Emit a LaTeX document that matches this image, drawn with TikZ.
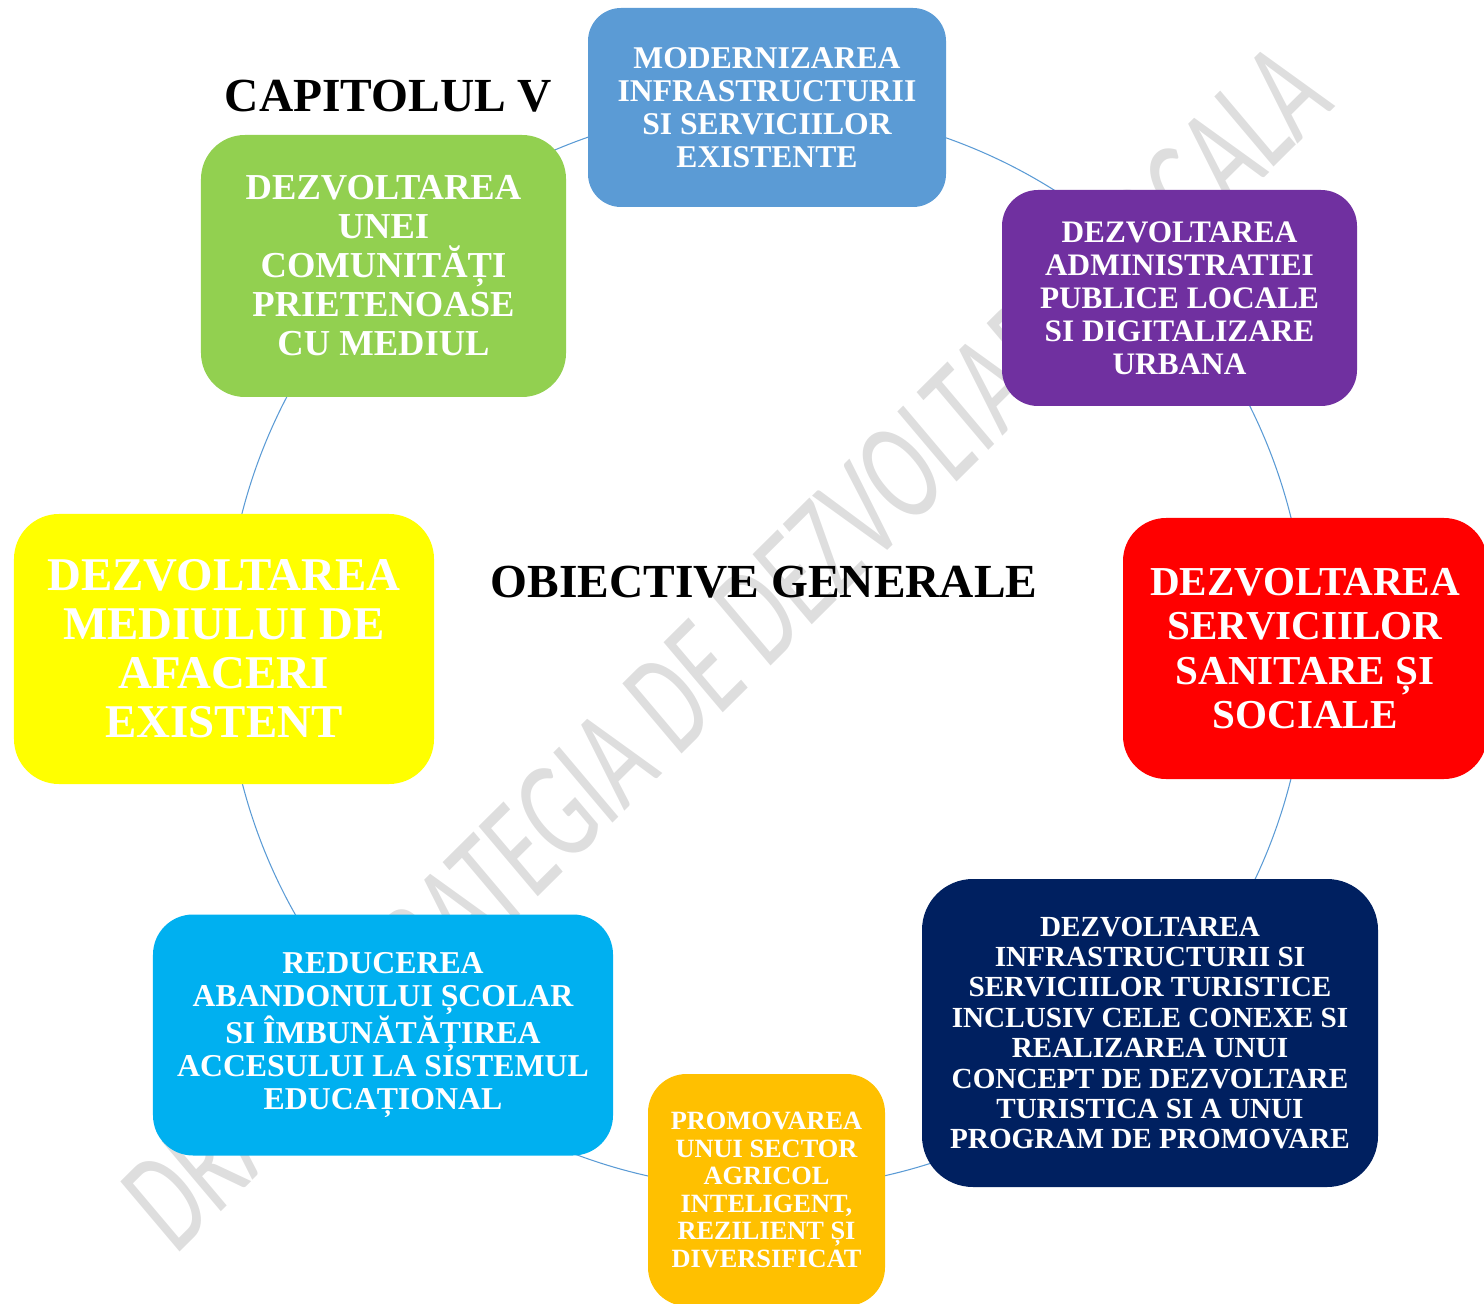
\documentclass[tikz,border=0pt]{standalone}
\usepackage{fontspec}
\setmainfont{Liberation Serif}
\newfontfamily\wmfont{Carlito}

\definecolor{cmodern}{HTML}{5B9BD5}
\definecolor{cadmin}{HTML}{7030A0}
\definecolor{csanit}{HTML}{FF0000}
\definecolor{cturism}{HTML}{002060}
\definecolor{cagri}{HTML}{FFC000}
\definecolor{ceduc}{HTML}{00B0F0}
\definecolor{cafaceri}{HTML}{FFFF00}
\definecolor{cmediu}{HTML}{92D050}

\tikzset{
  obiectiv/.style={rectangle, rounded corners=#1, inner sep=0pt, text=white, align=center},
  legatura/.style={line width=0.6pt, color=cmodern},
  titlu/.style={anchor=base, inner sep=0pt, font=\bfseries\fontsize{27}{27}\selectfont}
}

\begin{document}
\begin{tikzpicture}[x=0.2mm,y=-0.2mm]
        \useasboundingbox (0,0) rectangle (1484,1304);

        % watermark
        \begin{scope}[shift={(175,1257)}]
            \node[cm={0.466,0.462,-0.645,0.764,(0,0)}, anchor=base west, inner sep=0pt,
                  text=black!13, font=\wmfont\fontsize{81.4}{81.4}\selectfont]
                  (filigran) at (0,0) {DRAFT STRATEGIA DE DEZVOLTARE LOCALA};
        \end{scope}

        % points of the cycle
        \coordinate (c1) at (766,107);
        \coordinate (c2) at (1148.5,265.5);
        \coordinate (c3) at (1307,648);
        \coordinate (c4) at (1148.5,1030.5);
        \coordinate (c5) at (766,1189);
        \coordinate (c6) at (383.5,1030.5);
        \coordinate (c7) at (225,648);
        \coordinate (c8) at (383.5,265.5);

        % cycle
        \draw[legatura] (c1) arc[start angle=90, end angle=45, radius=108.2mm];
        \draw[legatura] (c2) arc[start angle=45, end angle=0, radius=108.2mm];
        \draw[legatura] (c3) arc[start angle=0, end angle=-45, radius=108.2mm];
        \draw[legatura] (c4) arc[start angle=-45, end angle=-90, radius=108.2mm];
        \draw[legatura] (c5) arc[start angle=-90, end angle=-135, radius=108.2mm];
        \draw[legatura] (c6) arc[start angle=-135, end angle=-180, radius=108.2mm];
        \draw[legatura] (c7) arc[start angle=180, end angle=135, radius=108.2mm];
        \draw[legatura] (c8) arc[start angle=135, end angle=90, radius=108.2mm];

        % headings
        \node[titlu] (capitol) at (388.5,112) {CAPITOLUL V};
        \node[titlu] (obiective) at (764,597) {OBIECTIVE GENERALE};

        % objectives
        \node[obiectiv=18.8pt, fill=cmodern, minimum width=71.6mm, minimum height=39.8mm,
              font=\bfseries\fontsize{18}{18.8}\selectfont] (modern) at (767,107.5)
              {MODERNIZAREA\\INFRASTRUCTURII\\SI SERVICIILOR\\EXISTENTE};
        \node[obiectiv=20.5pt, fill=cadmin, minimum width=71mm, minimum height=43.2mm,
              font=\bfseries\fontsize{17.8}{18.8}\selectfont] (admin) at (1179.5,298)
              {DEZVOLTAREA\\ADMINISTRATIEI\\PUBLICE LOCALE\\SI DIGITALIZARE\\URBANA};
        \node[obiectiv=24.5pt, fill=csanit, minimum width=72.8mm, minimum height=52.2mm,
              font=\bfseries\fontsize{23.4}{25.3}\selectfont] (sanit) at (1305,648.5)
              {DEZVOLTAREA\\SERVICIILOR\\SANITARE ȘI\\SOCIALE};
        \node[obiectiv=29pt, fill=cturism, minimum width=91.2mm, minimum height=61.6mm,
              font=\bfseries\fontsize{16.6}{17.3}\selectfont] (turism) at (1150,1033)
              {DEZVOLTAREA\\INFRASTRUCTURII SI\\SERVICIILOR TURISTICE\\INCLUSIV CELE CONEXE SI\\REALIZAREA UNUI\\CONCEPT DE DEZVOLTARE\\TURISTICA SI A UNUI\\PROGRAM DE PROMOVARE};
        \node[obiectiv=22pt, fill=cagri, minimum width=47.4mm, minimum height=46.4mm,
              font=\bfseries\fontsize{15}{15.6}\selectfont] (agri) at (766.5,1190)
              {PROMOVAREA\\UNUI SECTOR\\AGRICOL\\INTELIGENT,\\REZILIENT ȘI\\DIVERSIFICAT};
        \node[obiectiv=22.8pt, fill=ceduc, minimum width=92mm, minimum height=48.2mm,
              font=\bfseries\fontsize{18.1}{18.8}\selectfont] (educ) at (383,1035)
              {REDUCEREA\\ABANDONULUI ȘCOLAR\\SI ÎMBUNĂTĂȚIREA\\ACCESULUI LA SISTEMUL\\EDUCAȚIONAL};
        \node[obiectiv=25.6pt, fill=cafaceri, minimum width=84mm, minimum height=54mm,
              font=\bfseries\fontsize{26.7}{27.9}\selectfont] (afaceri) at (224,649)
              {DEZVOLTAREA\\MEDIULUI DE\\AFACERI\\EXISTENT};
        \node[obiectiv=25pt, fill=cmediu, minimum width=73mm, minimum height=52.4mm,
              font=\bfseries\fontsize{20.8}{22.2}\selectfont] (mediu) at (383.5,266)
              {DEZVOLTAREA\\UNEI\\COMUNITĂȚI\\PRIETENOASE\\CU MEDIUL};
\end{tikzpicture}
\end{document}
